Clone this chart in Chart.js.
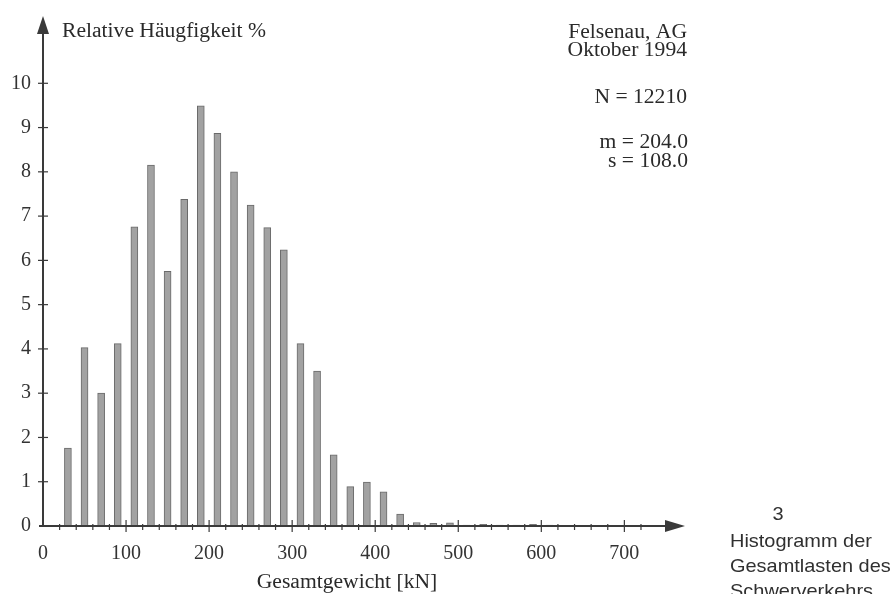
<!DOCTYPE html>
<html lang="de">
<head>
<meta charset="UTF-8">
<title>Histogramm</title>
<script src="https://cdn.jsdelivr.net/npm/chart.js"></script>
<style>
  html, body { margin: 0; padding: 0; background: #fff; }
  #wrap { position: relative; width: 892px; height: 594px; }
</style>
</head>
<body>
<div id="wrap"><canvas id="myChart"></canvas></div>
<script>
// bin centres [kN] and relative frequency [%]
const binCenters = [30, 50, 70, 90, 110, 130, 150, 170, 190, 210, 230, 250, 270, 290, 310, 330,
                    350, 370, 390, 410, 430, 450, 470, 490, 510, 530, 550, 570, 590, 610];
const frequency  = [1.76, 4.03, 3.0, 4.12, 6.76, 8.15, 5.75, 7.38, 9.49, 8.87, 8.0, 7.25, 6.74, 6.24, 4.12, 3.5,
                    1.61, 0.89, 0.99, 0.77, 0.27, 0.08, 0.06, 0.07, 0.02, 0.04, 0.02, 0.02, 0.04, 0.02];
const xTickLabels = [0, 100, 200, 300, 400, 500, 600, 700];
const yTickLabels = [0, 1, 2, 3, 4, 5, 6, 7, 8, 9, 10];

const serif = '"Liberation Serif", "DejaVu Serif", serif';
const sans = '"Liberation Sans", Arial, sans-serif';
const ink = '#3a3a3a';

// text in the scan is a little wider than tall
function wideText(ctx, str, x, y, align, sx) {
  const w = ctx.measureText(str).width * sx;
  let left = x;
  if (align === 'right') left = x - w;
  if (align === 'center') left = x - w / 2;
  ctx.save();
  ctx.translate(left, y);
  ctx.scale(sx, 1);
  ctx.textAlign = 'left';
  ctx.fillText(str, 0, 0);
  ctx.restore();
}

const axesPlugin = {
  id: 'axes',
  afterDraw(chart) {
    const ctx = chart.ctx;
    const x = chart.scales.x, y = chart.scales.y;
    const x0 = x.getPixelForValue(0), y0 = y.getPixelForValue(0);
    const top = chart.chartArea.top, right = chart.chartArea.right;
    ctx.save();
    ctx.strokeStyle = ink;
    ctx.fillStyle = ink;
    ctx.lineWidth = 2;
    // axis lines
    ctx.beginPath();
    ctx.moveTo(x0, y0 + 1); ctx.lineTo(x0, top + 14);
    ctx.moveTo(x0 - 4, y0); ctx.lineTo(right - 16, y0);
    ctx.stroke();
    // arrow heads
    ctx.beginPath();
    ctx.moveTo(x0, top); ctx.lineTo(x0 - 6, top + 18); ctx.lineTo(x0 + 6, top + 18); ctx.closePath();
    ctx.fill();
    ctx.beginPath();
    ctx.moveTo(right, y0); ctx.lineTo(right - 20, y0 - 6); ctx.lineTo(right - 20, y0 + 6); ctx.closePath();
    ctx.fill();
    // x ticks
    ctx.lineWidth = 1.2;
    for (let v = 20; v <= 720; v += 20) {
      const px = x.getPixelForValue(v);
      const major = v % 100 === 0;
      ctx.beginPath();
      ctx.moveTo(px, y0 - (major ? 6 : 2));
      ctx.lineTo(px, y0 + (major ? 6 : 4));
      ctx.stroke();
    }
    // y ticks
    yTickLabels.forEach(v => {
      if (v === 0) return;
      const py = y.getPixelForValue(v);
      ctx.beginPath();
      ctx.moveTo(x0 - 5, py); ctx.lineTo(x0 + 5, py);
      ctx.stroke();
    });
    // texts
    ctx.fillStyle = '#2a2a2a';
    ctx.font = '20px ' + serif;
    ctx.textBaseline = 'alphabetic';
    wideText(ctx, 'Relative Häugfigkeit %', 62, 37, 'left', 1.08);
    wideText(ctx, 'Felsenau, AG', 687, 38, 'right', 1.08);
    wideText(ctx, 'Oktober 1994', 687, 56, 'right', 1.08);
    wideText(ctx, 'N = 12210', 687, 103, 'right', 1.08);
    wideText(ctx, 'm = 204.0', 688, 148, 'right', 1.08);
    wideText(ctx, 's = 108.0', 688, 167, 'right', 1.08);
    wideText(ctx, 'Gesamtgewicht [kN]', 347, 588, 'center', 1.08);
    // caption
    ctx.fillStyle = '#303030';
    ctx.font = '19px ' + sans;
    wideText(ctx, '3', 778, 520, 'center', 1.05);
    wideText(ctx, 'Histogramm der', 730, 547, 'left', 1.05);
    wideText(ctx, 'Gesamtlasten des', 730, 572, 'left', 1.05);
    wideText(ctx, 'Schwerverkehrs', 730, 597, 'left', 1.05);
    ctx.restore();
  }
};

new Chart(document.getElementById('myChart'), {
  type: 'bar',
  data: {
    datasets: [{
      data: binCenters.map((c, i) => ({ x: c, y: frequency[i] })),
      backgroundColor: '#a2a2a2',
      borderColor: '#6a6a6a',
      borderWidth: 1,
      barThickness: 7,
      borderSkipped: 'bottom'
    }]
  },
  options: {
    responsive: true,
    maintainAspectRatio: false,
    animation: false,
    layout: { padding: { left: 0, top: 12, right: 207, bottom: 0 } },
    plugins: { legend: { display: false }, tooltip: { enabled: false } },
    scales: {
      x: {
        type: 'linear',
        offset: false,
        min: 0,
        max: 773,
        afterFit(s) { s.height = 68; },
        afterBuildTicks(s) { s.ticks = xTickLabels.map(v => ({ value: v })); },
        grid: { display: false, offset: false },
        border: { display: false },
        ticks: { padding: 8, color: '#333', font: { family: serif, size: 20 }, maxRotation: 0 }
      },
      y: {
        min: 0,
        max: 11.52,
        afterFit(s) { s.width = 43; },
        afterBuildTicks(s) { s.ticks = yTickLabels.map(v => ({ value: v })); },
        grid: { display: false },
        border: { display: false },
        ticks: { padding: 4, color: '#333', font: { family: serif, size: 20 } }
      }
    }
  },
  plugins: [axesPlugin]
});
</script>
</body>
</html>
